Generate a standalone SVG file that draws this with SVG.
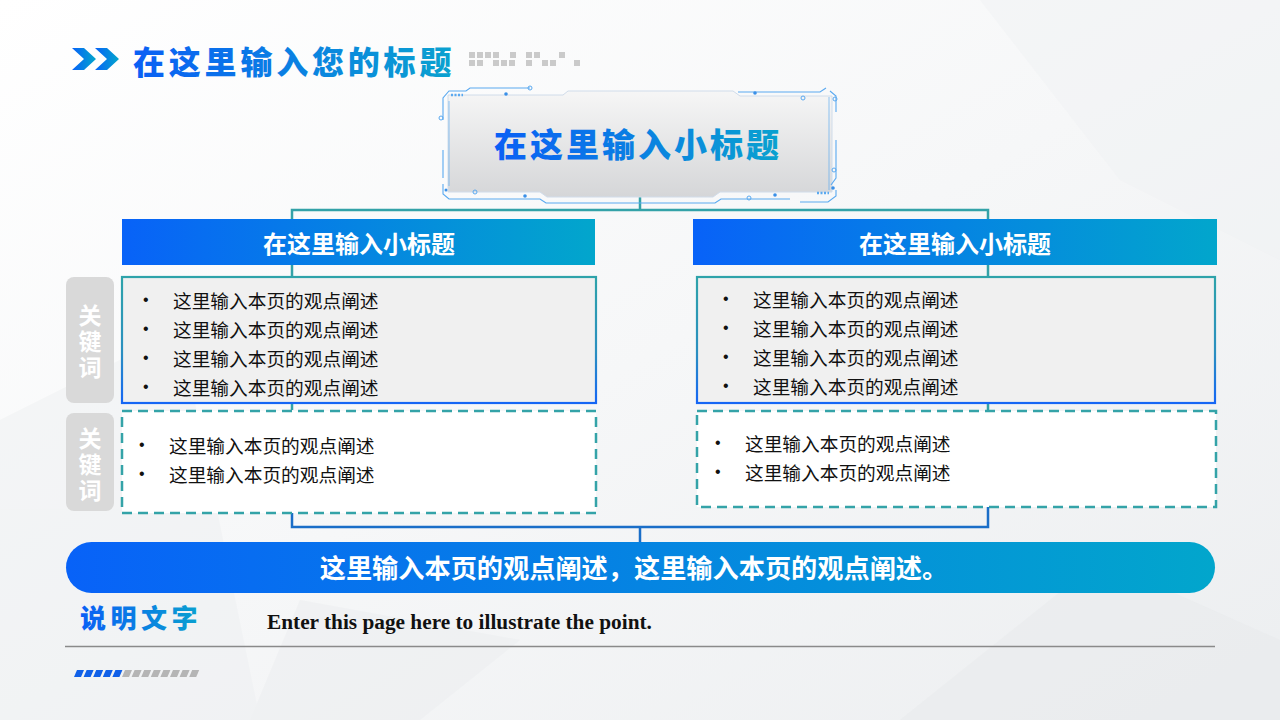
<svg xmlns="http://www.w3.org/2000/svg" width="1280" height="720" viewBox="0 0 1280 720">
<defs>
<linearGradient id="bg" x1="0" y1="0" x2="1" y2="1">
<stop offset="0" stop-color="#ffffff"/><stop offset="0.5" stop-color="#f6f7f8"/><stop offset="1" stop-color="#eceef0"/>
</linearGradient>
<linearGradient id="blueH" x1="0" y1="0" x2="1" y2="0">
<stop offset="0" stop-color="#0862f8"/><stop offset="1" stop-color="#02a6cc"/>
</linearGradient>
<linearGradient id="txtG" x1="0" y1="0" x2="1" y2="0">
<stop offset="0" stop-color="#0a5ff5"/><stop offset="1" stop-color="#0aa2cf"/>
</linearGradient>
<linearGradient id="panelG" x1="0" y1="0" x2="0" y2="1">
<stop offset="0" stop-color="#f6f6f6"/><stop offset="1" stop-color="#d5d6d8"/>
</linearGradient>
<linearGradient id="boxStroke" x1="0" y1="0" x2="0" y2="1">
<stop offset="0" stop-color="#2ea3aa"/><stop offset="0.6" stop-color="#2a8fc0"/><stop offset="1" stop-color="#1566f5"/>
</linearGradient>
<style>
.bul{font-family:"Noto Sans CJK SC","Noto Sans",sans-serif;font-size:18.7px;fill:#111}
.dot{font-family:"Liberation Sans",sans-serif;font-size:16px;fill:#111}
.hd{font-family:"Noto Sans CJK SC",sans-serif;font-weight:700;fill:#fff}
.kw{font-family:"Noto Sans CJK SC",sans-serif;font-weight:700;font-size:23px;fill:#fff;writing-mode:vertical-rl;letter-spacing:3px}
.kwbox{fill:#d9d9d9}
.solidbox{fill:#f0f0f0;stroke:url(#boxStroke);stroke-width:2.2}
.dashbox{fill:#ffffff;stroke:#34a3a8;stroke-width:2.5;stroke-dasharray:10 6}
.teal{stroke:#33a2a8;stroke-width:2.5;fill:none}
.blue{stroke:#1a6ec8;stroke-width:2.5;fill:none}
.deco{stroke:#5aa9f0;stroke-width:1.1;fill:none}
.decodot{fill:#3a90e8}
.px{fill:#cacaca}
</style>
</defs>

<rect width="1280" height="720" fill="url(#bg)"/>
<g opacity="0.5">
<polygon points="0,420 180,330 260,720 0,720" fill="#eef0f2"/>
<polygon points="980,0 1280,0 1280,260 1120,180" fill="#f0f1f3"/>
<polygon points="900,720 1100,560 1280,640 1280,720" fill="#e8eaec"/>
<polygon points="300,600 520,640 420,720 250,720" fill="#eceef0"/>
</g>

<!-- title -->
<g id="title">
<polygon points="72,48 84,48 96,59 84,70 72,70 84,59" fill="url(#blueH)"/>
<polygon points="95,48 107,48 119,59 107,70 95,70 107,59" fill="url(#blueH)"/>
<text x="133" y="74" font-family="'Noto Sans CJK SC',sans-serif" font-weight="900" font-size="32" letter-spacing="3.8" fill="url(#txtG)">在这里输入您的标题</text>
<g class="px">
<rect x="469" y="52" width="6" height="6"/><rect x="477" y="52" width="6" height="6"/><rect x="485" y="52" width="6" height="6"/><rect x="493" y="52" width="6" height="6"/><rect x="510" y="52" width="6" height="6"/><rect x="526" y="52" width="6" height="6"/><rect x="534" y="52" width="6" height="6"/><rect x="559" y="52" width="6" height="6"/>
<rect x="469" y="60" width="6" height="6"/><rect x="477" y="60" width="6" height="6"/><rect x="493" y="60" width="6" height="6"/><rect x="501" y="60" width="6" height="6"/><rect x="509" y="60" width="6" height="6"/><rect x="526" y="60" width="6" height="6"/><rect x="542" y="60" width="6" height="6"/><rect x="550" y="60" width="6" height="6"/><rect x="574" y="60" width="6" height="6"/>
</g>
</g>

<!-- connectors -->
<g id="connectors">
<path class="teal" d="M640,196 V210 M292,219 V210 H988 V219"/>
<path class="teal" d="M292,265 V277 M988,265 V277 M292,403 V410 M988,403 V410"/>
<path class="blue" d="M292,513 V527 H988 V507 M640,527 V542"/>
</g>

<!-- top box -->
<g id="top-box">
<path d="M448,95 H563 L568,91 H733 L740,96 H832 V192 H720 L713,197 H547 L540,192 H448 Z" fill="url(#panelG)" stroke="#d0dcea" stroke-width="1"/>
<path class="deco" d="M443,120 V98 L449,91 H466 L470,88 H530 M443,150 V178 M443,184 V194 L449,199 H540 L546,203 H715 L721,199 H790"/>
<path class="deco" d="M738,92 H820 L826,88 M836,112 V96 L830,91 M836,140 V178 L831,185 M836,190 V196 L828,202 H800"/>
<path class="deco" d="M449,101 V186 M829,97 V190" stroke-width="0.8" opacity="0.6"/>
<g fill="none" stroke="#5aa9f0" stroke-width="1">
<circle cx="441" cy="118" r="2"/><circle cx="530" cy="88" r="2"/><circle cx="475" cy="192" r="2"/><circle cx="835" cy="99" r="2"/><circle cx="834" cy="170" r="2"/><circle cx="803" cy="98" r="2"/><circle cx="749" cy="198" r="2"/>
</g>
<g class="decodot">
<circle cx="506" cy="94" r="1.8"/><circle cx="525" cy="196" r="1.8"/><circle cx="755" cy="93" r="1.8"/><circle cx="775" cy="195" r="1.8"/><circle cx="833" cy="188" r="1.8"/><circle cx="446" cy="190" r="1.5"/>
</g>
<path d="M451,95 h12 M817,193 h12" stroke="#5aa9f0" stroke-width="2.5" stroke-dasharray="2 1.5"/>
<text x="638" y="143" text-anchor="middle" dominant-baseline="central" font-family="'Noto Sans CJK SC',sans-serif" font-weight="900" font-size="33" letter-spacing="3" fill="url(#txtG)">在这里输入小标题</text>
</g>

<!-- left column -->
<g id="left-header">
<rect x="122" y="219" width="473" height="46" fill="url(#blueH)"/>
<text class="hd" x="359" y="242" text-anchor="middle" dominant-baseline="central" font-size="24">在这里输入小标题</text>
</g>
<g id="right-header">
<rect x="693" y="219" width="524" height="46" fill="url(#blueH)"/>
<text class="hd" x="955" y="242" text-anchor="middle" dominant-baseline="central" font-size="24">在这里输入小标题</text>
</g>

<g id="kw1">
<rect class="kwbox" x="66" y="277" width="48" height="126" rx="8"/>
<text class="kw" x="90" y="304">关键词</text>
</g>
<g id="kw2">
<rect class="kwbox" x="66" y="413" width="48" height="98" rx="8"/>
<text class="kw" x="90" y="427">关键词</text>
</g>

<g id="left-content">
<rect class="solidbox" x="122" y="277" width="474" height="126"/>
<g dominant-baseline="central">
<text class="dot" x="143" y="299">•</text><text class="bul" x="173" y="299">这里输入本页的观点阐述</text>
<text class="dot" x="143" y="328">•</text><text class="bul" x="173" y="328">这里输入本页的观点阐述</text>
<text class="dot" x="143" y="357">•</text><text class="bul" x="173" y="357">这里输入本页的观点阐述</text>
<text class="dot" x="143" y="386">•</text><text class="bul" x="173" y="386">这里输入本页的观点阐述</text>
</g>
</g>
<g id="right-content">
<rect class="solidbox" x="697" y="277" width="518" height="126"/>
<g dominant-baseline="central">
<text class="dot" x="723" y="298">•</text><text class="bul" x="753" y="298">这里输入本页的观点阐述</text>
<text class="dot" x="723" y="327">•</text><text class="bul" x="753" y="327">这里输入本页的观点阐述</text>
<text class="dot" x="723" y="356">•</text><text class="bul" x="753" y="356">这里输入本页的观点阐述</text>
<text class="dot" x="723" y="385">•</text><text class="bul" x="753" y="385">这里输入本页的观点阐述</text>
</g>
</g>
<g id="left-dashed">
<rect class="dashbox" x="122" y="411" width="474" height="102"/>
<g dominant-baseline="central">
<text class="dot" x="139" y="444">•</text><text class="bul" x="169" y="444">这里输入本页的观点阐述</text>
<text class="dot" x="139" y="473">•</text><text class="bul" x="169" y="473">这里输入本页的观点阐述</text>
</g>
</g>
<g id="right-dashed">
<rect class="dashbox" x="697" y="411" width="519" height="96"/>
<g dominant-baseline="central">
<text class="dot" x="715" y="442">•</text><text class="bul" x="745" y="442">这里输入本页的观点阐述</text>
<text class="dot" x="715" y="471">•</text><text class="bul" x="745" y="471">这里输入本页的观点阐述</text>
</g>
</g>

<g id="bottom-bar">
<rect x="66" y="542" width="1149" height="51" rx="25.5" fill="url(#blueH)"/>
<text class="hd" x="634" y="567" text-anchor="middle" dominant-baseline="central" font-size="26.2">这里输入本页的观点阐述，这里输入本页的观点阐述。</text>
</g>

<g id="caption">
<text x="80" y="628" font-family="'Noto Sans CJK SC',sans-serif" font-weight="900" font-size="26" letter-spacing="4.5" fill="url(#txtG)">说明文字</text>
<text x="267" y="629" font-family="'Liberation Serif','Times New Roman',serif" font-weight="700" font-size="21.3" fill="#111">Enter this page here to illustrate the point.</text>
<line x1="65" y1="646.5" x2="1215" y2="646.5" stroke="#8a8a8a" stroke-width="1.3"/>
</g>

<g id="stripes">
<g fill="#1060e8">
<polygon points="77,670 84,670 81,677 74,677"/><polygon points="86.6,670 93.6,670 90.6,677 83.6,677"/><polygon points="96.2,670 103.2,670 100.2,677 93.2,677"/><polygon points="105.8,670 112.8,670 109.8,677 102.8,677"/><polygon points="115.4,670 122.4,670 119.4,677 112.4,677"/>
</g>
<g fill="#b5b5b5">
<polygon points="125,670 132,670 129,677 122,677"/><polygon points="134.6,670 141.6,670 138.6,677 131.6,677"/><polygon points="144.2,670 151.2,670 148.2,677 141.2,677"/><polygon points="153.8,670 160.8,670 157.8,677 150.8,677"/><polygon points="163.4,670 170.4,670 167.4,677 160.4,677"/><polygon points="173,670 180,670 177,677 170,677"/><polygon points="182.6,670 189.6,670 186.6,677 179.6,677"/><polygon points="192.2,670 199.2,670 196.2,677 189.2,677"/>
</g>
</g>
</svg>
